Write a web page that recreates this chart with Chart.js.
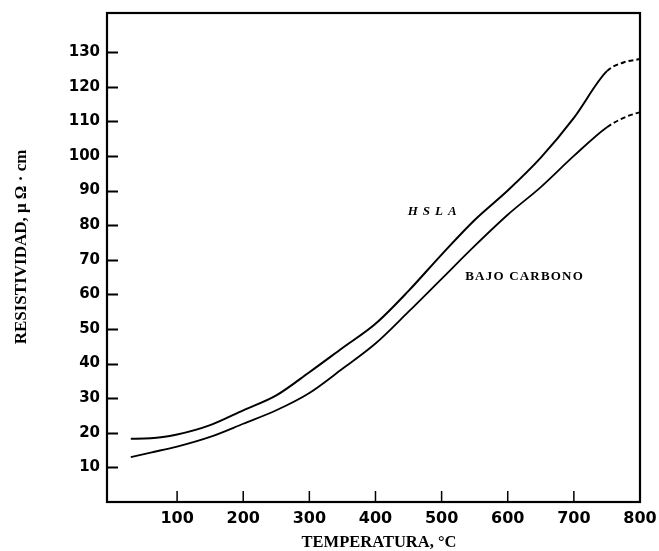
<!DOCTYPE html>
<html>
<head>
<meta charset="utf-8">
<script src="https://cdn.jsdelivr.net/npm/chart.js@4.4.1/dist/chart.umd.min.js"></script>
<style>
  body { margin: 0; background: #fff; }
  #wrap { width: 659px; height: 551px; }
</style>
</head>
<body>
<div id="wrap"><canvas id="chart" width="659" height="551"></canvas></div>
<script>
// datos (temperatura en °C, resistividad en µΩ·cm)
const temps = [30, 60, 100, 150, 200, 250, 300, 350, 400, 450, 500, 550, 600, 650, 700, 750, 775, 800];
const hsla = [18.3, 18.4, 19.5, 22.2, 26.5, 30.8, 37.5, 44.5, 51.5, 61, 71.5, 81.5, 90, 99.5, 111, 124.5, 127, 128];
const bajoCarbono = [13, 14.3, 16, 18.8, 22.6, 26.5, 31.5, 38.5, 45.8, 55, 64.5, 74, 83, 91, 100, 108.3, 111, 112.7];
const xTicks = [100, 200, 300, 400, 500, 600, 700, 800];
const yTicks = [10, 20, 30, 40, 50, 60, 70, 80, 90, 100, 110, 120, 130];
const dashFrom = 750; // tramo extrapolado (línea discontinua)

const serif = '"Liberation Serif"';

// marco, marcas hacia adentro, rótulos de curvas y títulos de ejes
const framePlugin = {
  id: 'frame',
  afterDraw(chart) {
    const { ctx, chartArea: a, scales: { x, y } } = chart;
    ctx.save();
    ctx.strokeStyle = '#000';
    ctx.fillStyle = '#000';
    ctx.lineWidth = 2.2;
    ctx.strokeRect(a.left, a.top, a.right - a.left, a.bottom - a.top);

    ctx.lineWidth = 2;
    ctx.beginPath();
    yTicks.forEach((v) => {
      const py = Math.round(y.getPixelForValue(v)) + 0.5;
      ctx.moveTo(a.left, py);
      ctx.lineTo(a.left + 11, py);
    });
    ctx.stroke();
    ctx.lineWidth = 1.5;
    ctx.beginPath();
    xTicks.forEach((v) => {
      if (v >= 800) return;
      const px = x.getPixelForValue(v);
      ctx.moveTo(px, a.bottom);
      ctx.lineTo(px, a.bottom - 11);
    });
    ctx.stroke();

    // rótulos de las curvas
    ctx.textBaseline = 'middle';
    ctx.textAlign = 'center';
    ctx.font = 'italic bold 13px ' + serif;
    ctx.letterSpacing = '5px';
    ctx.fillText('HSLA', x.getPixelForValue(485) + 3, y.getPixelForValue(83.8));
    ctx.font = 'bold 13px ' + serif;
    ctx.letterSpacing = '1.2px';
    ctx.fillText('BAJO CARBONO', x.getPixelForValue(624) + 1, y.getPixelForValue(65));
    ctx.letterSpacing = '0px';

    // títulos de ejes
    ctx.font = 'bold 16.5px ' + serif;
    ctx.fillText('TEMPERATURA, °C', 379, 543);
    ctx.font = 'bold 17px ' + serif;
    ctx.translate(22, 247);
    ctx.rotate(-Math.PI / 2);
    ctx.fillText('RESISTIVIDAD, μ Ω · cm', 0, 0);
    ctx.restore();
  }
};

const makeSet = (label, values, width) => ({
  label: label,
  data: temps.map((t, i) => ({ x: t, y: values[i] })),
  borderColor: '#000',
  borderWidth: width,
  pointRadius: 0,
  fill: false,
  cubicInterpolationMode: 'monotone',
  segment: {
    borderDash: (ctx) => (ctx.p0.parsed.x >= dashFrom ? [5, 3] : undefined)
  }
});

const noPad = (s) => {
  s.paddingLeft = 0;
  s.paddingRight = 0;
  s.paddingTop = 0;
  s.paddingBottom = 0;
};

new Chart(document.getElementById('chart'), {
  type: 'line',
  data: {
    datasets: [makeSet('HSLA', hsla, 2), makeSet('BAJO CARBONO', bajoCarbono, 1.8)]
  },
  options: {
    responsive: false,
    animation: false,
    layout: { padding: { top: 13, right: 19, left: 0, bottom: 0 } },
    plugins: { legend: { display: false }, tooltip: { enabled: false } },
    scales: {
      x: {
        type: 'linear',
        min: -6,
        max: 800,
        grid: { display: false, drawTicks: false },
        border: { display: false },
        afterBuildTicks: (s) => { s.ticks = xTicks.map((v) => ({ value: v })); },
        afterFit: (s) => { s.height = 49; noPad(s); },
        ticks: {
          color: '#000',
          font: { family: '"DejaVu Sans"', size: 16, weight: 'bold' },
          padding: 7,
          maxRotation: 0,
          autoSkip: false
        }
      },
      y: {
        min: 0,
        max: 141.3,
        grid: { display: false, drawTicks: false },
        border: { display: false },
        afterBuildTicks: (s) => { s.ticks = yTicks.map((v) => ({ value: v })); },
        afterFit: (s) => { s.width = 107; noPad(s); },
        ticks: {
          color: '#000',
          font: { family: '"DejaVu Sans"', size: 15, weight: 'bold' },
          padding: 7,
          autoSkip: false
        }
      }
    }
  },
  plugins: [framePlugin]
});
</script>
</body>
</html>
